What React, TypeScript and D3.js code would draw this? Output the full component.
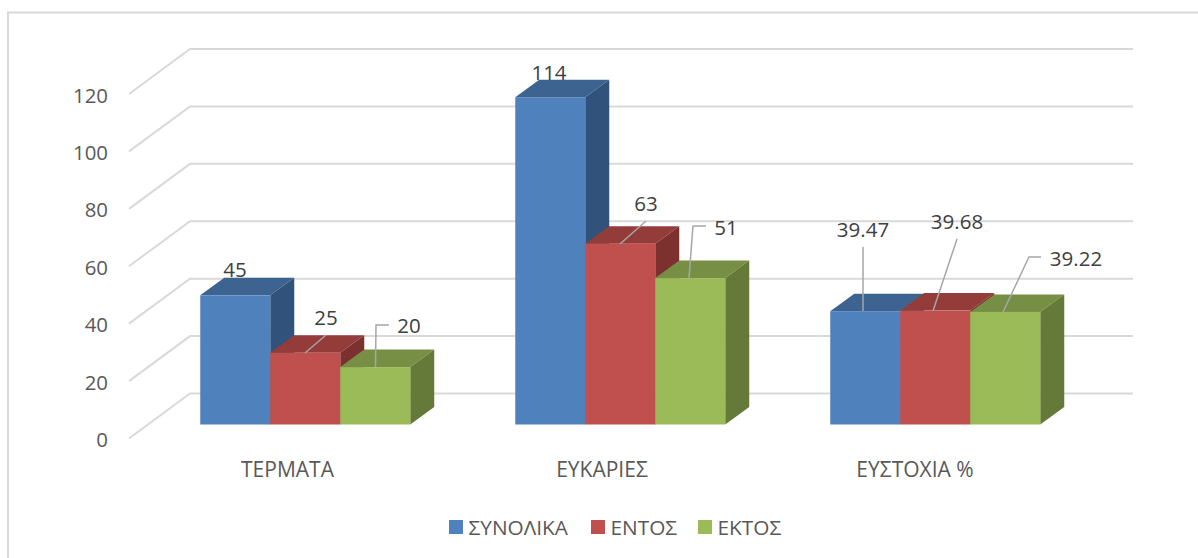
import React from "react";
import * as d3 from "d3";

const categories = ["ΤΕΡΜΑΤΑ", "ΕΥΚΑΡΙΕΣ", "ΕΥΣΤΟΧΙΑ %"];
const seriesNames = ["ΣΥΝΟΛΙΚΑ", "ΕΝΤΟΣ", "ΕΚΤΟΣ"];
const synolika = [45, 114, 39.47];
const entos = [25, 63, 39.68];
const ektos = [20, 51, 39.22];
const seriesValues = [synolika, entos, ektos];
const yTicks = [0, 20, 40, 60, 80, 100, 120];
const frontColors = ["#4f81bd", "#c0504d", "#9bbb59"];
const topColors = ["#3d6491", "#943c3a", "#778f44"];
const sideColors = ["#31527a", "#7c312f", "#657a39"];

const labelOffsets: Record<string, { lx: number; ly: number; path: [number, number][] }> = {
  "0-0": { lx: 235, ly: 269, path: [] },
  "0-1": { lx: 326, ly: 316.5, path: [[305, 353], [326, 335]] },
  "0-2": { lx: 409, ly: 325, path: [[375.5, 367], [376, 325], [389, 325]] },
  "1-0": { lx: 549, ly: 71.5, path: [] },
  "1-1": { lx: 646, ly: 202.5, path: [[620, 244], [646, 221]] },
  "1-2": { lx: 726, ly: 226.5, path: [[689, 278], [693, 226], [706, 226]] },
  "2-0": { lx: 863, ly: 228.5, path: [[863, 311], [863, 247]] },
  "2-1": { lx: 957, ly: 220.5, path: [[933, 311], [957, 239]] },
  "2-2": { lx: 1076, ly: 257.5, path: [[1003, 312], [1029, 257], [1041, 257]] },
};

const W = 1198;
const H = 558;
const y = d3.scaleLinear().domain([0, 120]).range([344.5, 0]);
const wallFrontX = 129;
const wallBackX = 190;
const wallFrontY = 438.5;
const wallBackY = 393.5;
const gridRight = 1133;
const x0 = d3.scaleBand().domain(categories).range([147.75, 1092.75]).paddingInner(1 / 3).paddingOuter(1 / 6);
const x1 = d3.scaleBand().domain(seriesNames).range([0, x0.bandwidth()]);
const baseY = 424.5;
const depthX = 24;
const depthY = 17.5;
const font = "'Open Sans', 'Noto Sans', sans-serif";
const categoryCentres = [287.5, 602, 915];

export default function App() {
  const line = d3.line();
  const bars: React.ReactNode[] = [];
  categories.forEach((c, ci) => {
    seriesNames.forEach((s, si) => {
      const v = seriesValues[si][ci];
      const l = x0(c)! + x1(s)!;
      const r = l + x1.bandwidth();
      const t = baseY - (344.5 - y(v));
      const f = (pts: [number, number][]) => line(pts)! + "Z";
      bars.push(
        <g key={c + s}>
          <path d={f([[l, t], [l + depthX, t - depthY], [r + depthX, t - depthY], [r, t]])} fill={topColors[si]} />
          <path d={f([[r, t], [r + depthX, t - depthY], [r + depthX, baseY - depthY], [r, baseY]])} fill={sideColors[si]} />
          <rect x={l} y={t} width={r - l} height={baseY - t} fill={frontColors[si]} />
        </g>
      );
    });
  });
  const labels: React.ReactNode[] = [];
  categories.forEach((_, ci) => {
    seriesNames.forEach((_s, si) => {
      const o = labelOffsets[`${ci}-${si}`];
      labels.push(
        <g key={`${ci}-${si}`}>
          {o.path.length > 0 && <path d={line(o.path)!} fill="none" stroke="#a6a6a6" strokeWidth={1.5} />}
          <text x={o.lx} y={o.ly} textAnchor="middle" dominantBaseline="central" fontSize={20.5} fill="#404040">
            {seriesValues[si][ci]}
          </text>
        </g>
      );
    });
  });
  const legendX = [449, 591, 698];
  return (
    <svg width={W} height={H} viewBox={`0 0 ${W} ${H}`} style={{ position: "absolute", left: 0, top: 0, background: "#fff" }} fontFamily={font}>
      <path d="M8 558V12.5H1198" fill="none" stroke="#d9d9d9" strokeWidth={2} />
      {yTicks.map((t) => {
        const dy = 344.5 - y(t);
        return (
          <g key={t}>
            <path d={line([[wallFrontX, wallFrontY - dy], [wallBackX, wallBackY - dy], [gridRight, wallBackY - dy]])!} fill="none" stroke="#d9d9d9" strokeWidth={2} />
            <text x={108} y={wallFrontY - dy + 0.5} textAnchor="end" dominantBaseline="central" fontSize={20.4} fill="#595959">{t}</text>
          </g>
        );
      })}
      {bars}
      {labels}
      {categories.map((c, i) => (
        <text key={c} x={categoryCentres[i]} y={468.5} textAnchor="middle" dominantBaseline="central" fontSize={21} fill="#595959">{c}</text>
      ))}
      {seriesNames.map((s, i) => (
        <g key={s}>
          <rect x={legendX[i]} y={520} width={14} height={14} fill={frontColors[i]} />
          <text x={legendX[i] + 19.5} y={527} dominantBaseline="central" fontSize={20.8} fill="#595959">{s}</text>
        </g>
      ))}
    </svg>
  );
}
